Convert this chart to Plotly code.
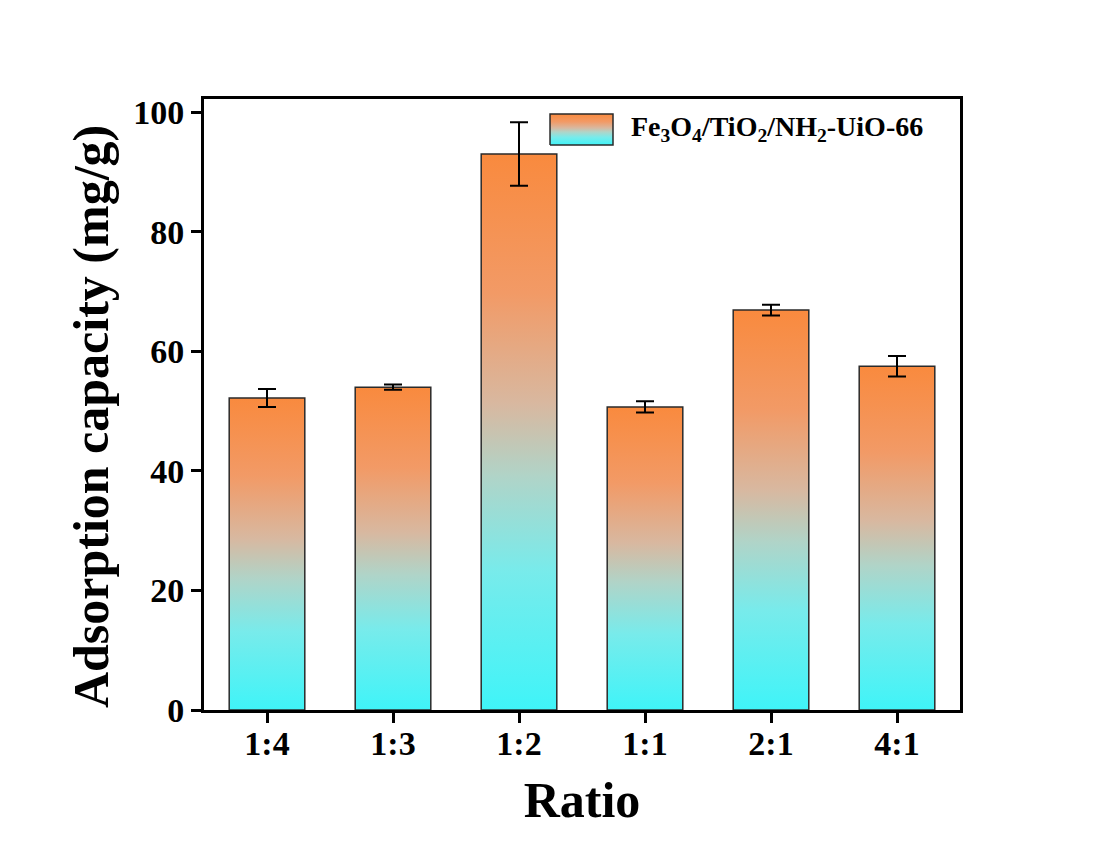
import plotly.graph_objects as go

# Adsorption capacity of Fe3O4/TiO2/NH2-UiO-66 at different mass ratios
ratios = ["1:4", "1:3", "1:2", "1:1", "2:1", "4:1"]
capacity = [52.2, 54.0, 93.0, 50.7, 66.9, 57.5]
capacity_err = [1.5, 0.45, 5.3, 0.95, 0.9, 1.7]
y_ticks = [0, 20, 40, 60, 80, 100]

series_name = "Fe<sub>3</sub>O<sub>4</sub>/TiO<sub>2</sub>/NH<sub>2</sub>-UiO-66"
y_title = "Adsorption capacity (mg/g)"
x_title = "Ratio"

FONT = "Liberation Serif"
BAR_WIDTH = 0.6
# bottom (cyan) to top (orange)
GRADIENT = [
    [0.0, "#3ff4f8"],
    [0.25, "#78ebeb"],
    [0.42, "#b0d4c8"],
    [0.55, "#d8b8a0"],
    [0.75, "#f29a66"],
    [1.0, "#f98a3e"],
]

fig = go.Figure()

positions = list(range(len(ratios)))

# one gradient-filled outlined column per ratio
for pos, val in zip(positions, capacity):
    x0, x1 = pos - BAR_WIDTH / 2, pos + BAR_WIDTH / 2
    fig.add_trace(go.Scatter(
        x=[x0, x0, x1, x1, x0],
        y=[0, val, val, 0, 0],
        mode="lines",
        fill="toself",
        fillgradient=dict(type="vertical", colorscale=GRADIENT),
        line=dict(color="#2a2a2a", width=1.5),
        hoverinfo="skip",
        showlegend=False,
    ))

# error bars on top of the columns
fig.add_trace(go.Scatter(
    x=positions,
    y=capacity,
    mode="markers",
    marker=dict(size=1, opacity=0),
    error_y=dict(type="data", array=capacity_err, visible=True,
                 color="black", thickness=2, width=9),
    showlegend=False,
))

# legend swatch drawn on an overlay axis in plot-fraction units
fig.add_trace(go.Scatter(
    x=[0.4577, 0.4577, 0.541, 0.541, 0.4577],
    y=[0.9247, 0.9755, 0.9755, 0.9247, 0.9247],
    xaxis="x2", yaxis="y2",
    mode="lines",
    fill="toself",
    fillgradient=dict(type="vertical", colorscale=GRADIENT),
    line=dict(color="#2a2a2a", width=1.5),
    hoverinfo="skip",
    showlegend=False,
))

fig.add_annotation(
    x=0.5625, y=0.951, xref="paper", yref="paper",
    xanchor="left", yanchor="middle",
    text=series_name, showarrow=False,
    font=dict(family=FONT, size=28, color="black", weight="bold"),
)

# vertical axis title
fig.add_annotation(
    x=-0.15, y=0.5, xref="paper", yref="paper",
    xanchor="center", yanchor="middle", yshift=-12,
    textangle=-90, text=y_title, showarrow=False,
    font=dict(family=FONT, size=50, color="black", weight="bold"),
)

axis_common = dict(
    showline=True, linecolor="black", linewidth=3, mirror=True,
    ticks="outside", ticklen=10, tickwidth=3, tickcolor="black",
    showgrid=False, zeroline=False,
    tickfont=dict(family=FONT, size=34, color="black", weight="bold"),
)

fig.update_layout(
    width=1100, height=843,
    margin=dict(l=204, r=140, t=99, b=133),
    paper_bgcolor="white", plot_bgcolor="white",
    showlegend=False,
    xaxis=dict(
        range=[-0.5, len(ratios) - 0.5],
        tickmode="array", tickvals=positions, ticktext=ratios,
        ticklabelstandoff=-9,
        title=dict(text=x_title, standoff=22,
                   font=dict(family=FONT, size=50, color="black", weight="bold")),
        **axis_common,
    ),
    yaxis=dict(
        range=[0, 102.2],
        tickmode="array", tickvals=y_ticks,
        **axis_common,
    ),
    xaxis2=dict(overlaying="x", range=[0, 1], visible=False),
    yaxis2=dict(overlaying="y", range=[0, 1], visible=False),
)

fig.write_html("out.html")
